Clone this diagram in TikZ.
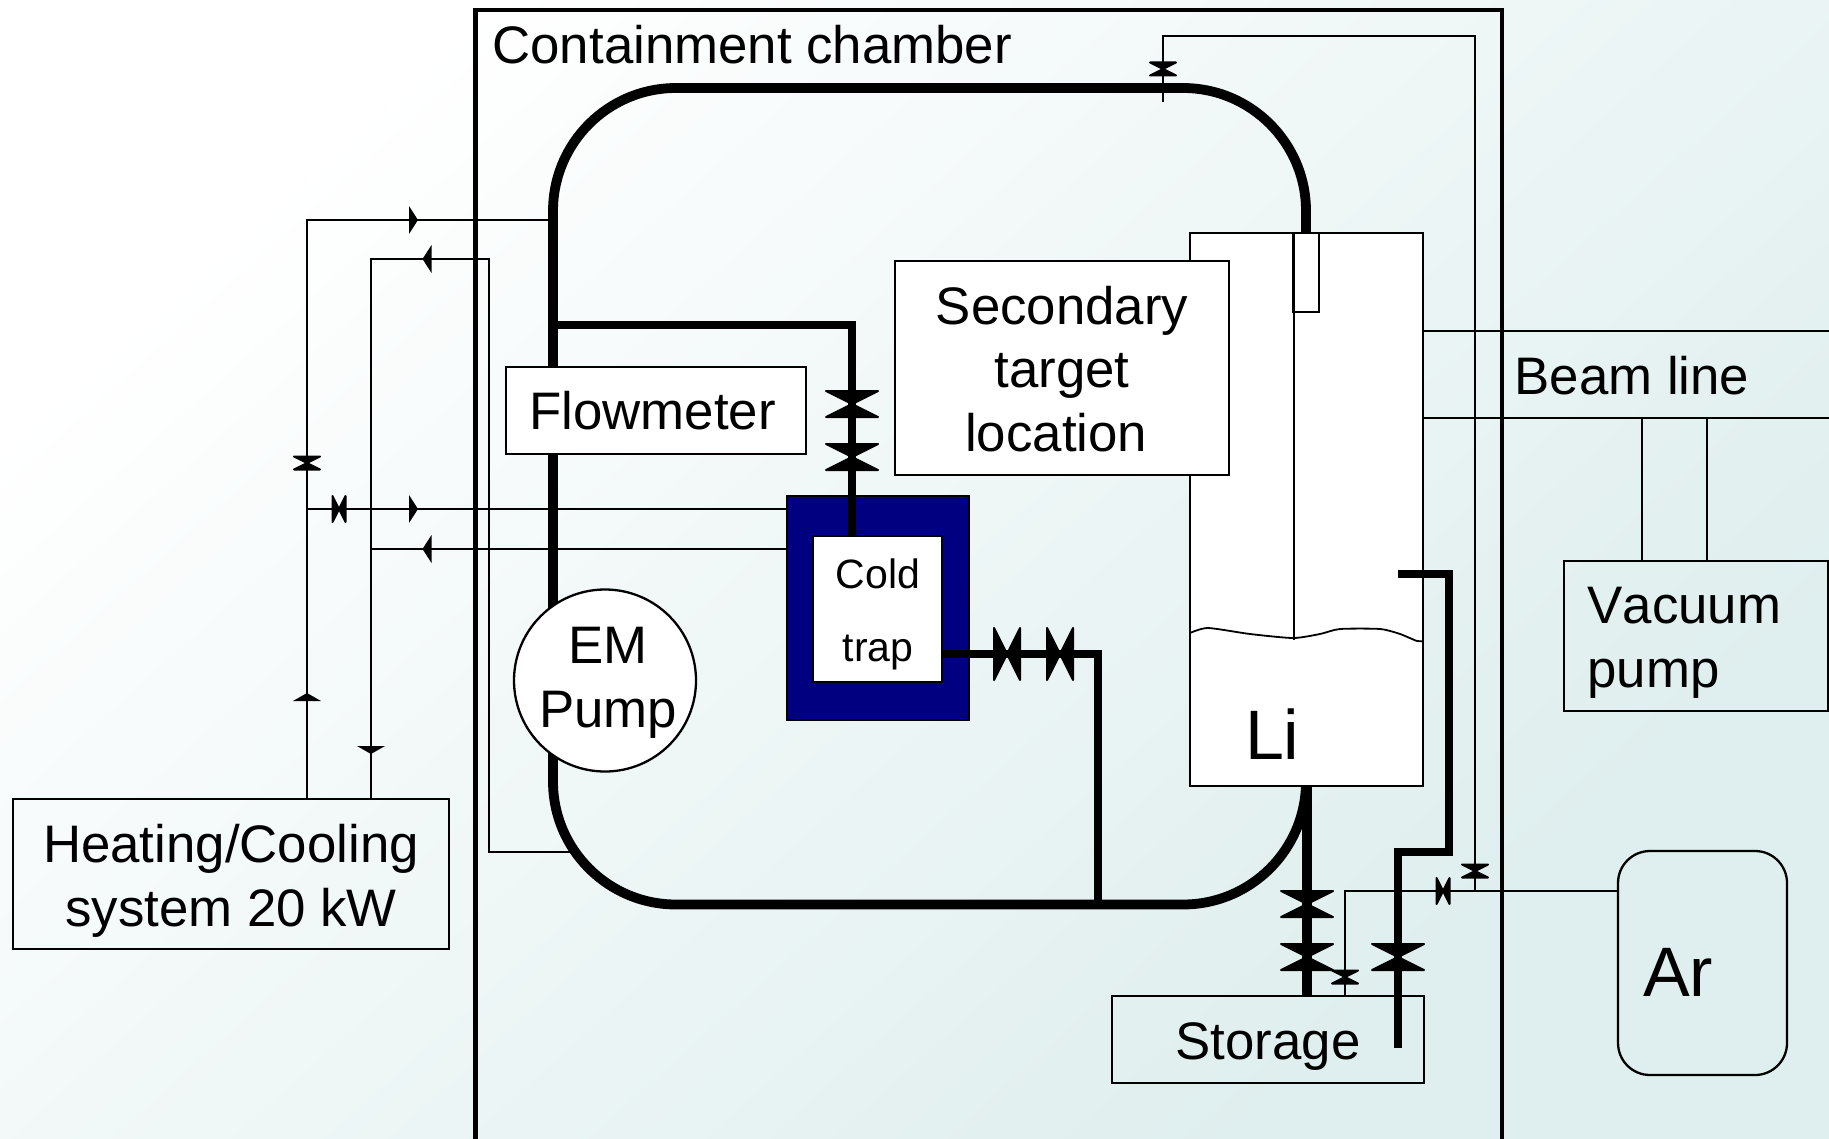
\documentclass[tikz,border=0pt]{standalone}
\usepackage{fontspec}
\setmainfont[Kerning=Off]{Liberation Sans}
\definecolor{navyfill}{HTML}{000080}
\definecolor{bgend}{HTML}{DFEEEE}
\pgfdeclareverticalshading{bgshade}{100bp}{color(0bp)=(white); color(33.8bp)=(white); color(64.6bp)=(bgend); color(100bp)=(bgend)}
\tikzset{
  thinline/.style={line width=1.15pt,black,line join=miter},
  pipeb/.style={line width=3.6pt,black,line join=miter},
  pipec/.style={line width=5pt,black},
  wall/.style={line width=2.25pt,black,line join=miter},
  box/.style={draw=black,line width=1.15pt,rectangle,inner sep=0pt,outer sep=0pt},
  whitebox/.style={box,fill=white},
  valvefill/.style={fill=black,draw=black,line width=1pt,line join=round},
  txt/.style={inner sep=0pt,outer sep=0pt,text=black,font=\fontsize{26.4}{31.8}\selectfont,align=center},
  smalltxt/.style={inner sep=0pt,outer sep=0pt,text=black,font=\fontsize{20.5}{36.5}\selectfont,align=center},
  bigtxt/.style={inner sep=0pt,outer sep=0pt,text=black,font=\fontsize{35}{40}\selectfont,anchor=base west},
  basetxt/.style={inner sep=0pt,outer sep=0pt,text=black,font=\fontsize{26.4}{31.8}\selectfont,anchor=base west},
  pics/valveV/.style n args={2}{code={\path[valvefill] (-#1,-#2)--(#1,-#2)--(-#1,#2)--(#1,#2)--cycle;}},
  pics/valveH/.style n args={2}{code={\path[valvefill] (-#1,-#2)--(-#1,#2)--(#1,-#2)--(#1,#2)--cycle;}},
  pics/arrR/.style={code={\fill[black] (-4.5,-14)--(4.5,0)--(-4.5,14)--cycle;}},
  pics/arrL/.style={code={\fill[black] (4.5,-14)--(-4.5,0)--(4.5,14)--cycle;}},
  pics/arrU/.style={code={\fill[black] (-14,4)--(0,-4)--(14,4)--cycle;}},
  pics/arrD/.style={code={\fill[black] (-14,-4)--(0,4)--(14,-4)--cycle;}},
}
\begin{document}
\begin{tikzpicture}[x=0.5pt,y=-0.5pt]
\useasboundingbox (0,0) rectangle (1829,1139);
% background
\begin{scope}
\clip (0,0) rectangle (1829,1139);
\shade[shading=bgshade,shading angle=222] (-185.5,-530.5) rectangle (2014.5,1669.5);
\end{scope}

% containment chamber walls
\coordinate (wallBL) at (475.5,1139);
\coordinate (wallTL) at (475.5,10);
\coordinate (wallTR) at (1502,10);
\coordinate (wallBR) at (1502,1139);
\draw[wall] (wallBL) -- (wallTL) -- (wallTR) -- (wallBR);
\node[basetxt] (chambertext) at (492.5,64) {Containment chamber};

% main lithium loop
\node[draw=black,line width=4.9pt,rectangle,rounded corners=61.5pt,inner sep=0pt,outer sep=0pt,minimum width=376.5pt,minimum height=408.25pt] (loop) at (929.5,496.25) {};

% heating/cooling system
\node[box,minimum width=218pt,minimum height=75pt,txt,text depth=0pt] (heat) at (231,874) {\rule{0pt}{20.6pt}Heating/Cooling\\system 20 kW};
\coordinate (hcA) at (307,220);
\coordinate (hcB) at (371,259);
\coordinate (hcBr) at (489,259);
\coordinate (hcBb) at (489,852);
\coordinate (hcBe) at (575,852);
\coordinate (ctA) at (307,509);
\coordinate (ctB) at (371,549);
\coordinate (coldW) at (787,509);
\coordinate (coldWb) at (787,549);
\coordinate (loopA) at (553,220);
\draw[thinline] (heat.north -| hcA) -- (hcA) -- (loopA);
\draw[thinline] (heat.north -| hcB) -- (hcB) -- (hcBr) -- (hcBb) -- (hcBe);
\draw[thinline] (ctA) -- (coldW);
\draw[thinline] (ctB) -- (coldWb);
\pic at (413.5,220) {arrR};
\pic at (427,259) {arrL};
\pic at (413.5,509) {arrR};
\pic at (427,549) {arrL};
\pic at (307,697) {arrU};
\pic at (371,750) {arrD};
\pic at (307,463) {valveV={13}{6.5}};
\pic at (339,509) {valveH={6.5}{13}};

% lithium vessel
\node[whitebox,minimum width=116.5pt,minimum height=276.5pt] (li) at (1306.5,509.5) {};
\node[whitebox,minimum width=13pt,minimum height=39.5pt] (sleeve) at (1306,272.5) {};
\coordinate (rodTop) at (1294,233);
\coordinate (rodEnd) at (1294,640);
\draw[thinline] (rodTop) -- (rodEnd);
\draw[thinline,line width=0.9pt] plot[smooth,tension=0.4] coordinates {(1190,633) (1208,628) (1250,634) (1293,638) (1320,634) (1340,629) (1380,629) (1400,634) (1417,641) (1423,641)};
\node[bigtxt] (litext) at (1245,759) {Li};

% secondary target
\node[whitebox,minimum width=167pt,minimum height=107pt,txt,text depth=0pt] (secondary) at (1062,368) {\rule{0pt}{19.9pt}Secondary\\target\\location\kern5.8pt\null};

% flowmeter
\node[whitebox,minimum width=150pt,minimum height=43.5pt,txt,text depth=0pt] (flow) at (656,410.5) {Flowmeter\hspace{3.5pt}};

% EM pump
\node[draw=black,line width=1.15pt,fill=white,circle,inner sep=0pt,outer sep=0pt,minimum size=91pt] (em) at (605,680.5) {};
\node[txt] (emtext) at (608,683) {EM\\Pump};

% cold trap
\node[box,fill=navyfill,minimum width=91pt,minimum height=112pt] (trapout) at (878,608) {};
\coordinate (brJoin) at (553,325);
\coordinate (brCorner) at (852,325);
\coordinate (trapTop) at (852,536);
\draw[pipeb] (brJoin) -- (brCorner) -- (trapTop);
\coordinate (trapRight) at (942,654);
\coordinate (retCorner) at (1098,654);
\coordinate (retJoin) at (1098,903);
\node[whitebox,minimum width=64.5pt,minimum height=73pt] (trapin) at (877.5,609) {};
\node[smalltxt] (traptext) at (878,614) {Cold\\trap};
\draw[pipeb] (trapRight) -- (retCorner) -- (retJoin);
\pic at (852,404) {valveV={26}{13}};
\pic at (852,457) {valveV={26}{13}};
\pic at (1007,654) {valveH={13}{26}};
\pic at (1060,654) {valveH={13}{26}};

% storage
\node[box,minimum width=156pt,minimum height=43.5pt,txt,text depth=0pt] (storage) at (1268,1039.5) {\rule{0pt}{20.2pt}Storage};
\coordinate (drainX) at (1307,786);
\draw[pipec] (drainX) -- (drainX |- storage.north);
\pic at (1307,904) {valveV={26}{13}};
\pic at (1307,957) {valveV={26}{13}};

% return pipe into storage
\coordinate (fillEnd) at (1398,1048);
\coordinate (fillA) at (1398,852);
\coordinate (fillB) at (1449,852);
\coordinate (fillC) at (1449,574);
\coordinate (fillD) at (1398,574);
\draw[pipeb] (fillEnd) -- (fillA) -- (fillB) -- (fillC) -- (fillD);
\pic at (1398,957) {valveV={26}{13}};

% argon
\node[box,rounded corners=16pt,minimum width=84.5pt,minimum height=112pt] (ar) at (1702.5,963) {};
\node[bigtxt] (artext) at (1643,996) {Ar};
\coordinate (gasA) at (1345,891);
\coordinate (gasT) at (1475,891);
\coordinate (gasTop) at (1475,36);
\coordinate (gasL) at (1163,36);
\coordinate (gasEnd) at (1163,102);
\draw[thinline] (gasA |- storage.north) -- (gasA) -- (gasA -| ar.west);
\draw[thinline] (gasT) -- (gasTop) -- (gasL) -- (gasEnd);
\pic at (1345,977) {valveV={13}{6.5}};
\pic at (1443,891) {valveH={6.5}{13}};
\pic at (1475,871) {valveV={13}{6.5}};
\pic at (1163,69) {valveV={13}{6.5}};

% beam line and vacuum pump
\coordinate (beamU) at (1829,331);
\coordinate (beamL) at (1829,418);
\draw[thinline] (beamU -| li.east) -- (beamU);
\draw[thinline] (beamL -| li.east) -- (beamL);
\node[basetxt] (beamtext) at (1514.5,394) {Beam line};
\node[box,minimum width=132pt,minimum height=75pt] (vac) at (1696,636) {};
\node[txt,align=left,anchor=west,text depth=0pt] (vactext) at (1587.5,637.2) {Vacuum\\pump};
\coordinate (vacA) at (1642,418);
\coordinate (vacB) at (1707,418);
\draw[thinline] (vacA) -- (vacA |- vac.north);
\draw[thinline] (vacB) -- (vacB |- vac.north);
\end{tikzpicture}
\end{document}
